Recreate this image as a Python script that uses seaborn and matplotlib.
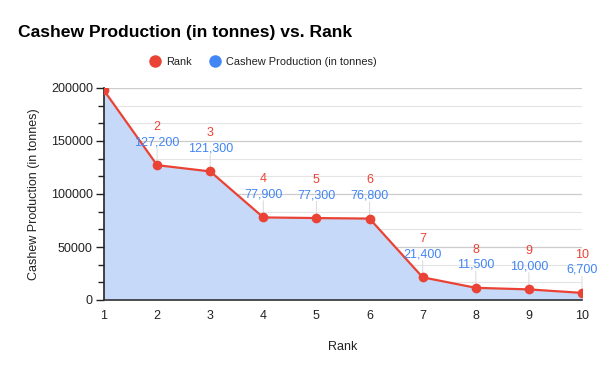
import matplotlib
matplotlib.use("Agg")
import matplotlib.pyplot as plt
import seaborn as sns
import pandas as pd
from matplotlib.lines import Line2D
from matplotlib.ticker import MultipleLocator

ranks = [1, 2, 3, 4, 5, 6, 7, 8, 9, 10]
production = [197700, 127200, 121300, 77900, 77300, 76800, 21400, 11500, 10000, 6700]
show_label = [False, True, True, True, True, True, True, True, True, True]

df = pd.DataFrame({"Rank": ranks, "Production": production})

sns.set_theme(style="white")
plt.rcParams["font.family"] = ["Liberation Sans", "DejaVu Sans"]

RED = "#ea4335"
BLUE = "#4285f4"
FILL = "#c6d9f8"

fig = plt.figure(figsize=(6, 3.71), dpi=100)
ax = fig.add_axes([104/600, 1-300/371, (582-104)/600, (300-88)/371])

ax.fill_between(df["Rank"], df["Production"], 0, color=FILL, zorder=1, linewidth=0)
sns.lineplot(data=df, x="Rank", y="Production", ax=ax, color=RED, linewidth=1.6,
             marker="o", markersize=7, markeredgewidth=0, zorder=4)

ax.set_xlim(1, 10)
ax.set_ylim(0, 200000)
ax.set_xticks(ranks)
ax.yaxis.set_major_locator(MultipleLocator(50000))
ax.yaxis.set_minor_locator(MultipleLocator(50000/3))
ax.grid(True, which="major", axis="y", color="#cccccc", linewidth=0.9, zorder=0)
ax.grid(True, which="minor", axis="y", color="#e4e4e4", linewidth=0.8, zorder=0)
ax.set_axisbelow(True)

for s in ["top", "right"]:
    ax.spines[s].set_visible(False)
ax.spines["left"].set_color("#222222")
ax.spines["bottom"].set_color("#333333")
ax.spines["left"].set_linewidth(1.2)
ax.spines["bottom"].set_linewidth(1.2)
ax.tick_params(axis="y", which="major", left=True, length=6, width=1, color="#222222",
               labelsize=9, labelcolor="#222222", pad=2)
ax.tick_params(axis="y", which="minor", left=True, length=4, width=1, color="#222222")
ax.tick_params(axis="x", bottom=False, labelsize=9, labelcolor="#222222", pad=1)

ax.set_xlabel("Rank", fontsize=9, color="#222222", labelpad=14)
ax.set_ylabel("Cashew Production (in tonnes)", fontsize=9, color="#222222", labelpad=8)

for r, p, s in zip(ranks, production, show_label):
    if not s:
        continue
    ax.annotate("", xy=(r, p), xytext=(0, 14), textcoords="offset points",
                arrowprops=dict(arrowstyle="-", color="#dddddd", lw=0.8), zorder=2)
    ax.annotate(f"{p:,}", xy=(r, p), xytext=(0, 16.5), textcoords="offset points",
                ha="center", va="center", fontsize=9, color=BLUE, zorder=5)
    ax.annotate(f"{r}", xy=(r, p), xytext=(0, 27.5), textcoords="offset points",
                ha="center", va="center", fontsize=9, color=RED, zorder=5)

fig.text(18/600, 1-33/371, "Cashew Production (in tonnes) vs. Rank", fontsize=12.6,
         fontweight="bold", color="#000000", ha="left", va="center")

handles = [Line2D([], [], marker="o", linestyle="none", markersize=9, color=RED, markeredgewidth=0),
           Line2D([], [], marker="o", linestyle="none", markersize=9, color=BLUE, markeredgewidth=0)]
fig.legend(handles, ["Rank", "Cashew Production (in tonnes)"], loc="center",
           bbox_to_anchor=(263/600, 1-62/371), ncol=2, frameon=False, fontsize=7.9,
           handletextpad=0.5, columnspacing=1.6, handlelength=1.0, labelcolor="#222222")

fig.savefig("out.png", dpi=100)
